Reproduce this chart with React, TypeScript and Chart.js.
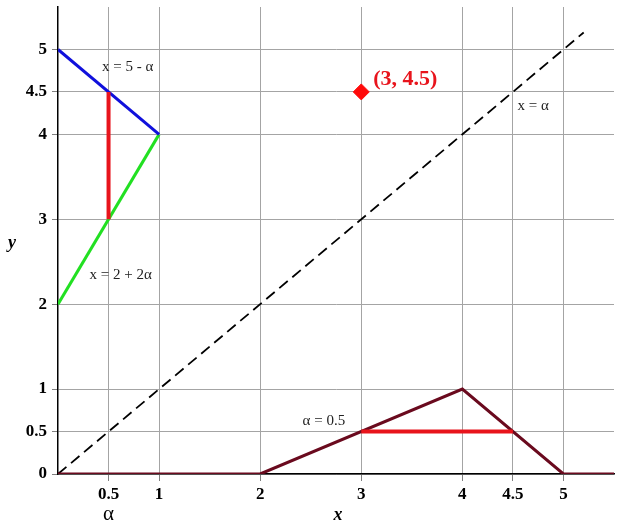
import React, { useEffect, useRef } from "react";
import { Chart, registerables } from "chart.js";

Chart.register(...registerables);

const xTicks = [0.5, 1, 2, 3, 4, 4.5, 5];
const yTicks = [0, 0.5, 1, 2, 3, 4, 4.5, 5];

const blueX = [0, 1];
const blueY = [5, 4];
const greenX = [0, 1];
const greenY = [2, 4];
const redVX = [0.5, 0.5];
const redVY = [3, 4.5];
const diagX = [0, 5.2];
const diagY = [0, 5.2];
const memX = [0, 2, 4, 5, 5.5];
const memY = [0, 0, 1, 0, 0];
const cutX = [3, 4.5];
const cutY = [0.5, 0.5];
const ptX = [3];
const ptY = [4.5];

const noteTexts = ["x = 5 - α", "x = 2 + 2α", "x = α", "α = 0.5"];
const noteX = [0.69, 0.62, 4.7, 2.63];
const noteY = [4.79, 2.34, 4.33, 0.62];

const pointLabel = "(3, 4.5)";

const zip = (xs: number[], ys: number[]) => xs.map((x, i) => ({ x, y: ys[i] }));

const SERIF = "'Liberation Serif', 'DejaVu Serif', serif";

const zeroPad = (s: any) => {
  s.paddingLeft = 0;
  s.paddingRight = 0;
  s.paddingTop = 0;
  s.paddingBottom = 0;
};

export default function App() {
  const ref = useRef<HTMLCanvasElement | null>(null);

  useEffect(() => {
    if (!ref.current) return;
    const textPlugin = {
      id: "texts",
      afterDatasetsDraw(chart: any) {
        const ctx = chart.ctx;
        const xs = chart.scales.x;
        const ys = chart.scales.y;
        ctx.save();
        ctx.textAlign = "center";
        ctx.textBaseline = "middle";
        ctx.fillStyle = "#222";
        ctx.font = `15px ${SERIF}`;
        noteTexts.forEach((t, i) => {
          ctx.fillText(t, xs.getPixelForValue(noteX[i]), ys.getPixelForValue(noteY[i]));
        });
        ctx.fillStyle = "#e8141c";
        ctx.font = `bold 22px ${SERIF}`;
        ctx.textAlign = "left";
        ctx.fillText(pointLabel, xs.getPixelForValue(ptX[0]) + 12, ys.getPixelForValue(ptY[0]) - 13);
        ctx.restore();
      },
      afterDraw(chart: any) {
        const ctx = chart.ctx;
        const xs = chart.scales.x;
        const area = chart.chartArea;
        ctx.save();
        ctx.fillStyle = "#000";
        ctx.textAlign = "center";
        ctx.textBaseline = "middle";
        ctx.font = `21px ${SERIF}`;
        ctx.fillText("α", xs.getPixelForValue(0.5), area.bottom + 40);
        ctx.font = `bold italic 18px ${SERIF}`;
        ctx.fillText("x", xs.getPixelForValue(2.77), area.bottom + 41);
        ctx.fillText("y", 12, chart.scales.y.getPixelForValue(2.72));
        ctx.restore();
      },
    };

    const chart = new Chart(ref.current, {
      type: "scatter",
      data: {
        datasets: [
          {
            data: zip(ptX, ptY),
            pointStyle: "rectRot",
            pointRadius: 8,
            backgroundColor: "#ff0a0a",
            borderColor: "#ff0a0a",
            showLine: false,
          },
          {
            data: zip(redVX, redVY),
            showLine: true,
            borderColor: "#e8141c",
            borderWidth: 4,
            pointRadius: 0,
          },
          {
            data: zip(cutX, cutY),
            showLine: true,
            borderColor: "#e8141c",
            borderWidth: 4,
            pointRadius: 0,
          },
          {
            data: zip(blueX, blueY),
            showLine: true,
            borderColor: "#1010dc",
            borderWidth: 3,
            pointRadius: 0,
          },
          {
            data: zip(greenX, greenY),
            showLine: true,
            borderColor: "#22e022",
            borderWidth: 3,
            pointRadius: 0,
          },
          {
            data: zip(memX, memY),
            showLine: true,
            borderColor: "#6a0a1e",
            borderWidth: 3,
            pointRadius: 0,
          },
          {
            data: zip(diagX, diagY),
            showLine: true,
            borderColor: "#000",
            borderWidth: 1.8,
            borderDash: [11, 6],
            pointRadius: 0,
          },
        ],
      },
      options: {
        animation: false,
        responsive: false,
        maintainAspectRatio: false,
        layout: { autoPadding: false, padding: { top: 7, right: 6, left: 0, bottom: 0 } },
        plugins: { legend: { display: false }, tooltip: { enabled: false } },
        scales: {
          x: {
            type: "linear",
            min: 0,
            max: 5.5,
            afterBuildTicks: (s: any) => {
              s.ticks = xTicks.map((v) => ({ value: v }));
            },
            afterFit: (s: any) => {
              s.height = 57;
              zeroPad(s);
            },
            grid: { color: "#a4a4a4", lineWidth: 1, tickLength: 7, tickColor: "#808080" },
            border: { color: "#000", width: 1.5 },
            ticks: {
              autoSkip: false,
              maxRotation: 0,
              padding: 3,
              color: "#000",
              font: { family: SERIF, size: 17, weight: "bold" },
              callback: (v: any) => String(v),
            },
          },
          y: {
            type: "linear",
            min: 0,
            max: 5.5,
            afterBuildTicks: (s: any) => {
              s.ticks = yTicks.map((v) => ({ value: v }));
            },
            afterFit: (s: any) => {
              s.width = 58;
              zeroPad(s);
            },
            grid: { color: "#a4a4a4", lineWidth: 1, tickLength: 6, tickColor: "#808080" },
            border: { color: "#000", width: 1.5 },
            ticks: {
              autoSkip: false,
              padding: 5,
              color: "#000",
              font: { family: SERIF, size: 17, weight: "bold" },
              callback: (v: any) => String(v),
            },
          },
        },
      },
      plugins: [textPlugin],
    } as any);
    return () => chart.destroy();
  }, []);

  return (
    <div style={{ position: "fixed", left: 0, top: 0, width: 620, height: 531, background: "#fff" }}>
      <canvas ref={ref} width={620} height={531} style={{ width: 620, height: 531 }} />
    </div>
  );
}
